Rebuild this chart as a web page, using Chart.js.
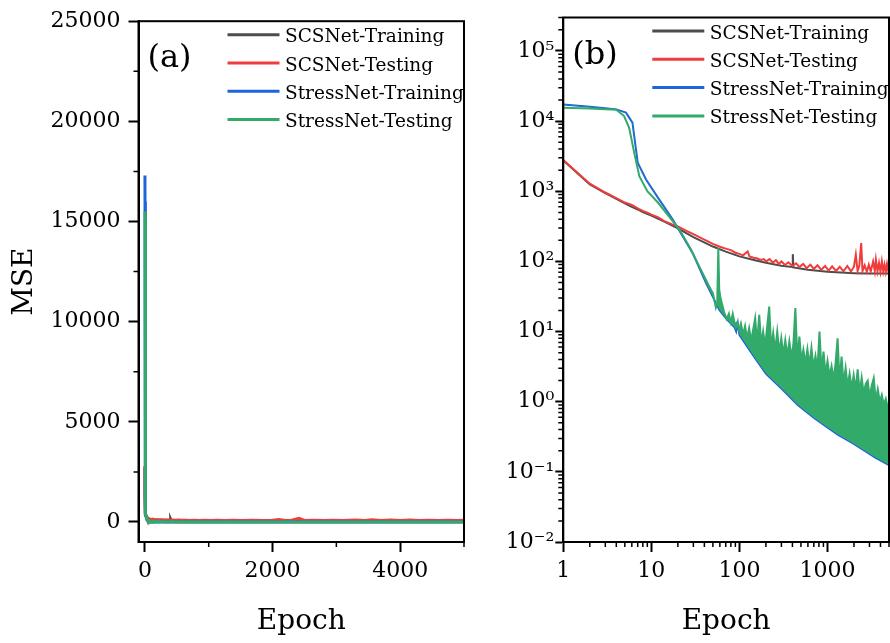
<!DOCTYPE html>
<html>
<head>
<meta charset="utf-8">
<script src="https://cdn.jsdelivr.net/npm/chart.js@4.4.0/dist/chart.umd.min.js"></script>
<style>
  body { margin: 0; background: #fff; }
  #wrapA { position: absolute; left: 0; top: 0; }
  #wrapB { position: absolute; left: 470px; top: 0; }
</style>
</head>
<body>
<div id="wrapA"><canvas id="chartA" width="475" height="643"></canvas></div>
<div id="wrapB"><canvas id="chartB" width="420" height="643"></canvas></div>
<script>
// values (epoch -> MSE)
const scsTrainEpoch = [1, 2, 3, 4, 5, 6, 7, 8, 10, 12, 15, 20, 30, 50, 70, 100, 150, 200, 300, 400, 404, 410, 600, 1000, 2000, 3000, 5000];
const scsTrainMSE = [2750, 1250, 940, 780, 670, 600, 550, 505, 450, 405, 355, 295, 222, 163, 138, 118, 104, 96, 87, 83, 127, 82, 76, 71, 68, 67, 67];

const scsTestEpoch = [1, 2, 3, 4, 5, 6, 7, 8, 9, 10, 12, 14, 17, 20, 25, 30, 40, 50, 60, 70,
  80, 90, 100, 110, 124, 130, 145, 160, 175, 190, 201, 220, 240, 260, 280, 300, 330, 360, 400, 440,
  480, 530, 580, 640, 700, 770, 850, 940, 1030, 1130, 1250, 1380, 1520, 1680, 1850, 2000, 2100, 2200, 2300, 2415,
  2500, 2650, 2800, 2950, 3100, 3300, 3450, 3550, 3700, 3850, 4000, 4150, 4300, 4450, 4600, 4750, 4900, 5000];
const scsTestMSE = [2800, 1280, 960, 800, 690, 640, 570, 525, 495, 465, 425, 375, 340, 315, 272, 245, 205, 178, 162, 152,
  145, 133, 128, 122, 139, 118, 113, 110, 105, 108, 100, 108, 96, 104, 92, 100, 89, 97, 86, 94,
  83, 92, 80, 90, 78, 88, 76, 86, 74, 85, 73, 84, 72, 86, 72, 84, 125, 73, 86, 183,
  73, 88, 71, 90, 72, 100, 73, 106, 72, 95, 71, 100, 72, 90, 71, 92, 74, 85];

const stressTrainEpoch = [1, 2, 3, 4, 5.15, 6.1, 7, 8.7, 12.3, 17.5, 29.4, 41.8, 59, 70, 88, 92, 96, 100, 124, 150,
  201, 298, 460, 711, 1000, 1310, 2000, 2630, 3500, 5000];
const stressTrainMSE = [17300, 16000, 15200, 14700, 13200, 9500, 2550, 1470, 760, 395, 132, 49, 20.4, 15.5, 11.5, 10, 13.2, 9, 6, 4.2,
  2.5, 1.55, 0.9, 0.58, 0.43, 0.34, 0.25, 0.2, 0.16, 0.125];

const stressTestEpoch = [1, 2, 3, 4, 4.9, 5.6, 6.4, 7.3, 9, 12, 16, 21, 28, 35, 45, 50, 54, 56, 57.6, 59, 61, 64, 67,
  72, 76, 80, 84, 89, 94, 99, 104, 110, 116, 122, 129, 136, 143, 151, 159, 168, 177, 186, 196,
  207, 218, 230, 242, 255, 269, 284, 299, 315, 332, 350, 369, 389, 410, 432, 455, 480, 506, 533, 562,
  592, 624, 658, 693, 731, 770, 812, 856, 902, 950, 1002, 1056, 1113, 1173, 1236, 1303, 1373, 1447, 1525, 1608,
  1694, 1786, 1882, 1984, 2091, 2204, 2323, 2448, 2580, 2720, 2866, 3021, 3184, 3356, 3537, 3728, 3930, 4142, 4365, 4601,
  4850, 5000];
const stressTestMSE = [15500, 15100, 14800, 14500, 11800, 8000, 3500, 1640, 1000, 680, 430, 280, 150, 85, 45, 35, 22, 26, 155, 40, 30, 24, 19,
  15, 18, 13.5, 17.9, 12.5, 13.5, 10.5, 13, 9, 12, 8, 11.2, 7.3, 10.5, 15.5, 6.8, 17.3, 6.5, 10, 6.2,
  12, 22.7, 5.6, 9.5, 5.3, 10, 5, 8, 4.7, 7.5, 4.5, 7.2, 4.3, 6.5, 21.6, 4, 8.5, 3.8, 5.5, 3.5,
  5.6, 3.3, 5.8, 3.1, 4.5, 2.9, 10, 2.7, 5.2, 2.5, 3.8, 2.3, 3.2, 2.1, 3.5, 8.0, 1.9, 4.4, 1.8, 3.0,
  1.65, 2.5, 1.55, 2.4, 1.45, 2.9, 1.35, 2.2, 1.3, 1.8, 2.0, 1.15, 1.7, 2.16, 1.05, 1.5, 1.0, 1.25, 0.9, 1.1,
  0.8, 0.9];

const seriesLabels = ['SCSNet-Training', 'SCSNet-Testing', 'StressNet-Training', 'StressNet-Testing'];
const seriesColors = ['#4d4d4d', '#f03c3c', '#1e64dc', '#32aa6a'];

const linYTicks = [0, 5000, 10000, 15000, 20000, 25000];
const linXTicks = [0, 2000, 4000];
const logYTicks = [1e-2, 1e-1, 1, 10, 100, 1e3, 1e4, 1e5];
const logXTicks = [1, 10, 100, 1000];

const FONT = '"DejaVu Serif", serif';
const sup = { '-': '\u207B', '0': '\u2070', '1': '\u00B9', '2': '\u00B2', '3': '\u00B3', '4': '\u2074', '5': '\u2075' };

function pairs(xs, ys) {
  return xs.map((x, i) => ({ x: x, y: ys[i] }));
}

function makeDatasets(width, withFill) {
  const src = [
    [scsTrainEpoch, scsTrainMSE],
    [scsTestEpoch, scsTestMSE],
    [stressTrainEpoch, stressTrainMSE],
    [stressTestEpoch, stressTestMSE]
  ];
  return src.map((s, i) => ({
    label: seriesLabels[i],
    data: pairs(s[0], s[1]),
    borderColor: seriesColors[i],
    backgroundColor: seriesColors[i],
    borderWidth: width,
    pointRadius: 0,
    tension: 0,
    order: 3 - i, // later series painted on top
    fill: (withFill && i === 3) ? { target: '-1', above: seriesColors[3], below: 'rgba(0,0,0,0)' } : false
  }));
}

// box, minor ticks, panel tag and legend inside the plot
const framePlugin = {
  id: 'frame',
  afterDraw(chart, args, opts) {
    const ctx = chart.ctx;
    const a = chart.chartArea;
    ctx.save();
    ctx.strokeStyle = '#000';
    ctx.lineWidth = 2;
    ctx.strokeRect(a.left, a.top, a.right - a.left, a.bottom - a.top);

    ctx.lineWidth = 1.5;
    ctx.beginPath();
    opts.xMinor.forEach(v => {
      const p = chart.scales.x.getPixelForValue(v);
      ctx.moveTo(p, a.bottom);
      ctx.lineTo(p, a.bottom + 5);
    });
    opts.yMinor.forEach(v => {
      const p = chart.scales.y.getPixelForValue(v);
      ctx.moveTo(a.left - 5, p);
      ctx.lineTo(a.left, p);
    });
    ctx.stroke();

    ctx.fillStyle = '#000';
    ctx.textBaseline = 'alphabetic';
    ctx.textAlign = 'left';
    ctx.font = '32px ' + FONT;
    ctx.fillText(opts.tag, a.left + 9, a.top + 46);

    ctx.font = '18.5px ' + FONT;
    chart.data.datasets.forEach((d, i) => {
      const y = a.top + 13.5 + i * 28.3;
      ctx.strokeStyle = d.borderColor;
      ctx.lineWidth = 3;
      ctx.beginPath();
      ctx.moveTo(a.left + 89, y);
      ctx.lineTo(a.left + 141, y);
      ctx.stroke();
      ctx.fillText(d.label, a.left + 146.5, y + 7.5);
    });
    ctx.restore();
  }
};

function axisCommon(tickLen, pad, fmt) {
  return {
    border: { display: true, color: '#000', width: 2 },
    grid: { drawOnChartArea: false, drawTicks: true, tickLength: tickLen, tickWidth: 2, tickColor: '#000' },
    ticks: { color: '#000', font: { family: FONT, size: 22 }, padding: pad, autoSkip: false, maxRotation: 0, callback: fmt }
  };
}

const plain = v => String(v);
const power = v => {
  const e = String(Math.round(Math.log10(v)));
  return '10' + e.split('').map(c => sup[c]).join('');
};

const titleFont = { family: FONT, size: 28 };

// (a) linear axes
new Chart(document.getElementById('chartA'), {
  type: 'line',
  data: { datasets: makeDatasets(3, false) },
  options: {
    responsive: false,
    animation: false,
    devicePixelRatio: 1,
    layout: { padding: { top: 17.5, right: 11, left: 0, bottom: 0 } },
    plugins: {
      legend: { display: false },
      tooltip: { enabled: false },
      frame: { tag: '(a)', xMinor: [1000, 3000, 5000], yMinor: [2500, 7500, 12500, 17500, 22500] }
    },
    scales: {
      x: Object.assign(axisCommon(10, 6, plain), {
        type: 'linear', min: -100, max: 5000,
        afterBuildTicks: s => { s.ticks = linXTicks.map(v => ({ value: v })); },
        afterFit: s => { s.height = 101; },
        title: { display: true, text: 'Epoch', color: '#000', font: titleFont, padding: { top: 0, bottom: 4 } }
      }),
      y: Object.assign(axisCommon(10, 8, plain), {
        type: 'linear', min: -1000, max: 25000,
        afterBuildTicks: s => { s.ticks = linYTicks.map(v => ({ value: v })); },
        afterFit: s => { s.width = 138.5; },
        title: { display: true, text: 'MSE', color: '#000', font: titleFont, padding: { top: 8, bottom: 0 } }
      })
    }
  },
  plugins: [framePlugin]
});

// (b) log-log axes
const logMinor = [];
for (let e = -2; e <= 5; e++) {
  for (let m = 2; m <= 9; m++) {
    const v = m * Math.pow(10, e);
    if (v <= 3e5) logMinor.push(v);
  }
}
const logXMinor = [];
for (let e = 0; e <= 3; e++) {
  for (let m = 2; m <= 9; m++) {
    const v = m * Math.pow(10, e);
    if (v <= 5000) logXMinor.push(v);
  }
}

new Chart(document.getElementById('chartB'), {
  type: 'line',
  data: { datasets: makeDatasets(2, true) },
  options: {
    responsive: false,
    animation: false,
    devicePixelRatio: 1,
    layout: { padding: { top: 17.5, right: 1, left: 0, bottom: 0 } },
    plugins: {
      legend: { display: false },
      tooltip: { enabled: false },
      frame: { tag: '(b)', xMinor: logXMinor, yMinor: logMinor }
    },
    scales: {
      x: Object.assign(axisCommon(10, 6, plain), {
        type: 'logarithmic', min: 1, max: 5000,
        afterBuildTicks: s => { s.ticks = logXTicks.map(v => ({ value: v })); },
        afterFit: s => { s.height = 101; },
        title: { display: true, text: 'Epoch', color: '#000', font: titleFont, padding: { top: 0, bottom: 4 } }
      }),
      y: Object.assign(axisCommon(8, 1, power), {
        type: 'logarithmic', min: 1e-2, max: 3e5,
        afterBuildTicks: s => { s.ticks = logYTicks.map(v => ({ value: v })); },
        afterFit: s => { s.width = 93.3; }
      })
    }
  },
  plugins: [framePlugin]
});
</script>
</body>
</html>
